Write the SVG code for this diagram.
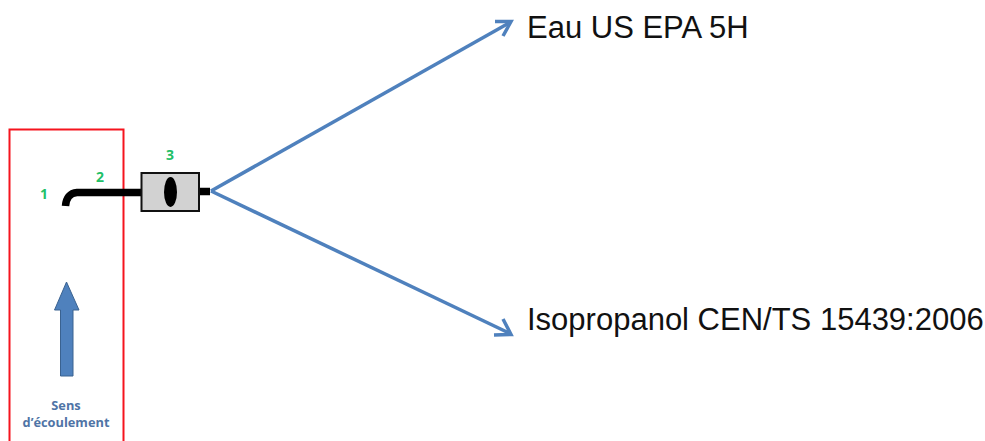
<svg xmlns="http://www.w3.org/2000/svg" width="985" height="441" viewBox="0 0 985 441">
<defs>
<style>
.big{font-family:"Liberation Sans",Arial,sans-serif;font-size:31px;fill:#111}
.num{font-family:"Open Sans",sans-serif;font-size:14px;font-weight:700;fill:#22c067;text-anchor:middle}
.cap{font-family:"Open Sans",sans-serif;font-size:12.8px;font-weight:700;fill:#4f74a6;text-anchor:middle}
.conn{fill:none;stroke:#4f81bd;stroke-width:3.500}
</style>
</defs>
<rect width="985" height="441" fill="#fff"/>
<g id="zone"><path d="M123.500 441V129.500H9.500V441" fill="none" stroke="#f5141e" stroke-width="2"/></g>
<g id="connectors">
<path class="conn" d="M211 191L509 23"/>
<path class="conn" d="M495 21.500L511 21.500L503 36"/>
<path class="conn" d="M211 191L509 333"/>
<path class="conn" d="M503 319L511 334.500L494 335"/>
</g>
<g id="tube">
<path d="M65.500 206C66 198 70 193 77 192.500H141" fill="none" stroke="#000" stroke-width="7.500"/>
<path d="M199 191.500H210" fill="none" stroke="#000" stroke-width="7.500"/>
</g>
<g id="filter">
<rect x="141.500" y="173" width="57.500" height="38" fill="#d2d2d2" stroke="#111" stroke-width="2"/>
<ellipse cx="170.500" cy="192" rx="6.500" ry="15" fill="#000"/>
</g>
<g id="arrow-flow"><path d="M60.500 376V310H54.500L66.500 282L79 310H73V376Z" fill="#4f81bd" stroke="#3a6290" stroke-width="1"/></g>
<g id="label-1"><text class="num" x="44" y="199">1</text></g>
<g id="label-2"><text class="num" x="100" y="182">2</text></g>
<g id="label-3"><text class="num" x="170" y="160">3</text></g>
<g id="caption"><text class="cap" x="66" y="410">Sens</text><text class="cap" x="66" y="427">d’écoulement</text></g>
<g id="label-eau"><text class="big" x="527" y="38">Eau US EPA 5H</text></g>
<g id="label-iso"><text class="big" x="527" y="330">Isopropanol CEN/TS 15439:2006</text></g>
</svg>
